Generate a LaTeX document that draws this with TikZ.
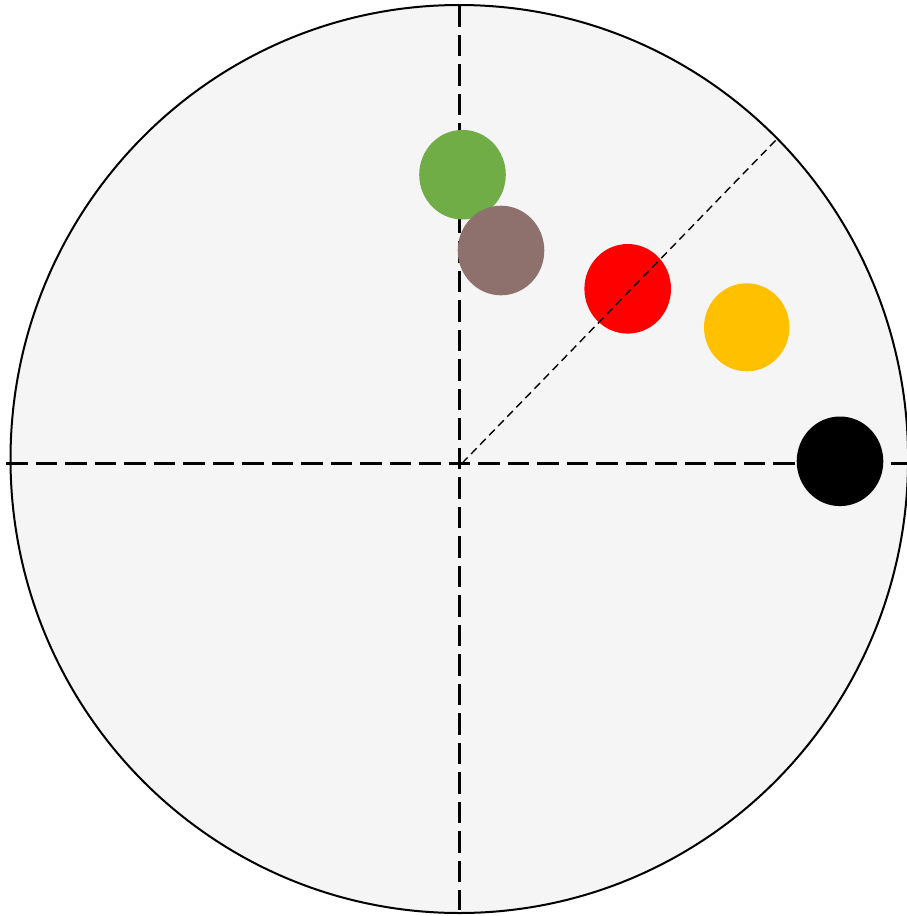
\documentclass[tikz,border=0pt]{standalone}
\usetikzlibrary{shapes.geometric}
\definecolor{plate}{HTML}{F5F5F5}
\definecolor{dotgreen}{HTML}{70AD47}
\definecolor{dotbrown}{HTML}{8E706D}
\definecolor{dotred}{HTML}{FF0000}
\definecolor{dotyellow}{HTML}{FFC000}

\begin{document}
\begin{tikzpicture}[x=1pt,y=-1pt,
  dot/.style={ellipse,minimum width=86.6pt,minimum height=89.6pt,inner sep=0pt,draw=none},
  axis/.style={line width=2.8pt,dash pattern=on 21.5pt off 8pt},
  guide/.style={line width=1.4pt,dash pattern=on 8pt off 5pt}]
  \useasboundingbox (0,0) rectangle (907,916);
  % plate and axes
  \draw[fill=plate,line width=2pt] (459.3,459) ellipse [x radius=448.8,y radius=454];
  \coordinate (west) at (6,463.3);
  \coordinate (east) at (907,463.3);
  \coordinate (north) at (459.3,5);
  \coordinate (south) at (459.3,910);
  \coordinate (origin) at (462,463.3);
  \coordinate (rim) at (776.7,139.3);
  \draw[axis] (west) -- (east);
  \draw[axis] (north) -- (south);
  % dots
  \node[dot,fill=dotgreen] (green) at (462.5,174.7) {};
  \node[dot,fill=dotbrown] (brown) at (501,250.5) {};
  \node[dot,fill=dotred] (red) at (627.7,288.8) {};
  \node[dot,fill=dotyellow,minimum width=85.4pt,minimum height=88pt] (yellow) at (746.7,327.3) {};
  \node[dot,fill=black] (black) at (840,461.3) {};
  \draw[guide] (origin) -- (rim);
\end{tikzpicture}
\end{document}
